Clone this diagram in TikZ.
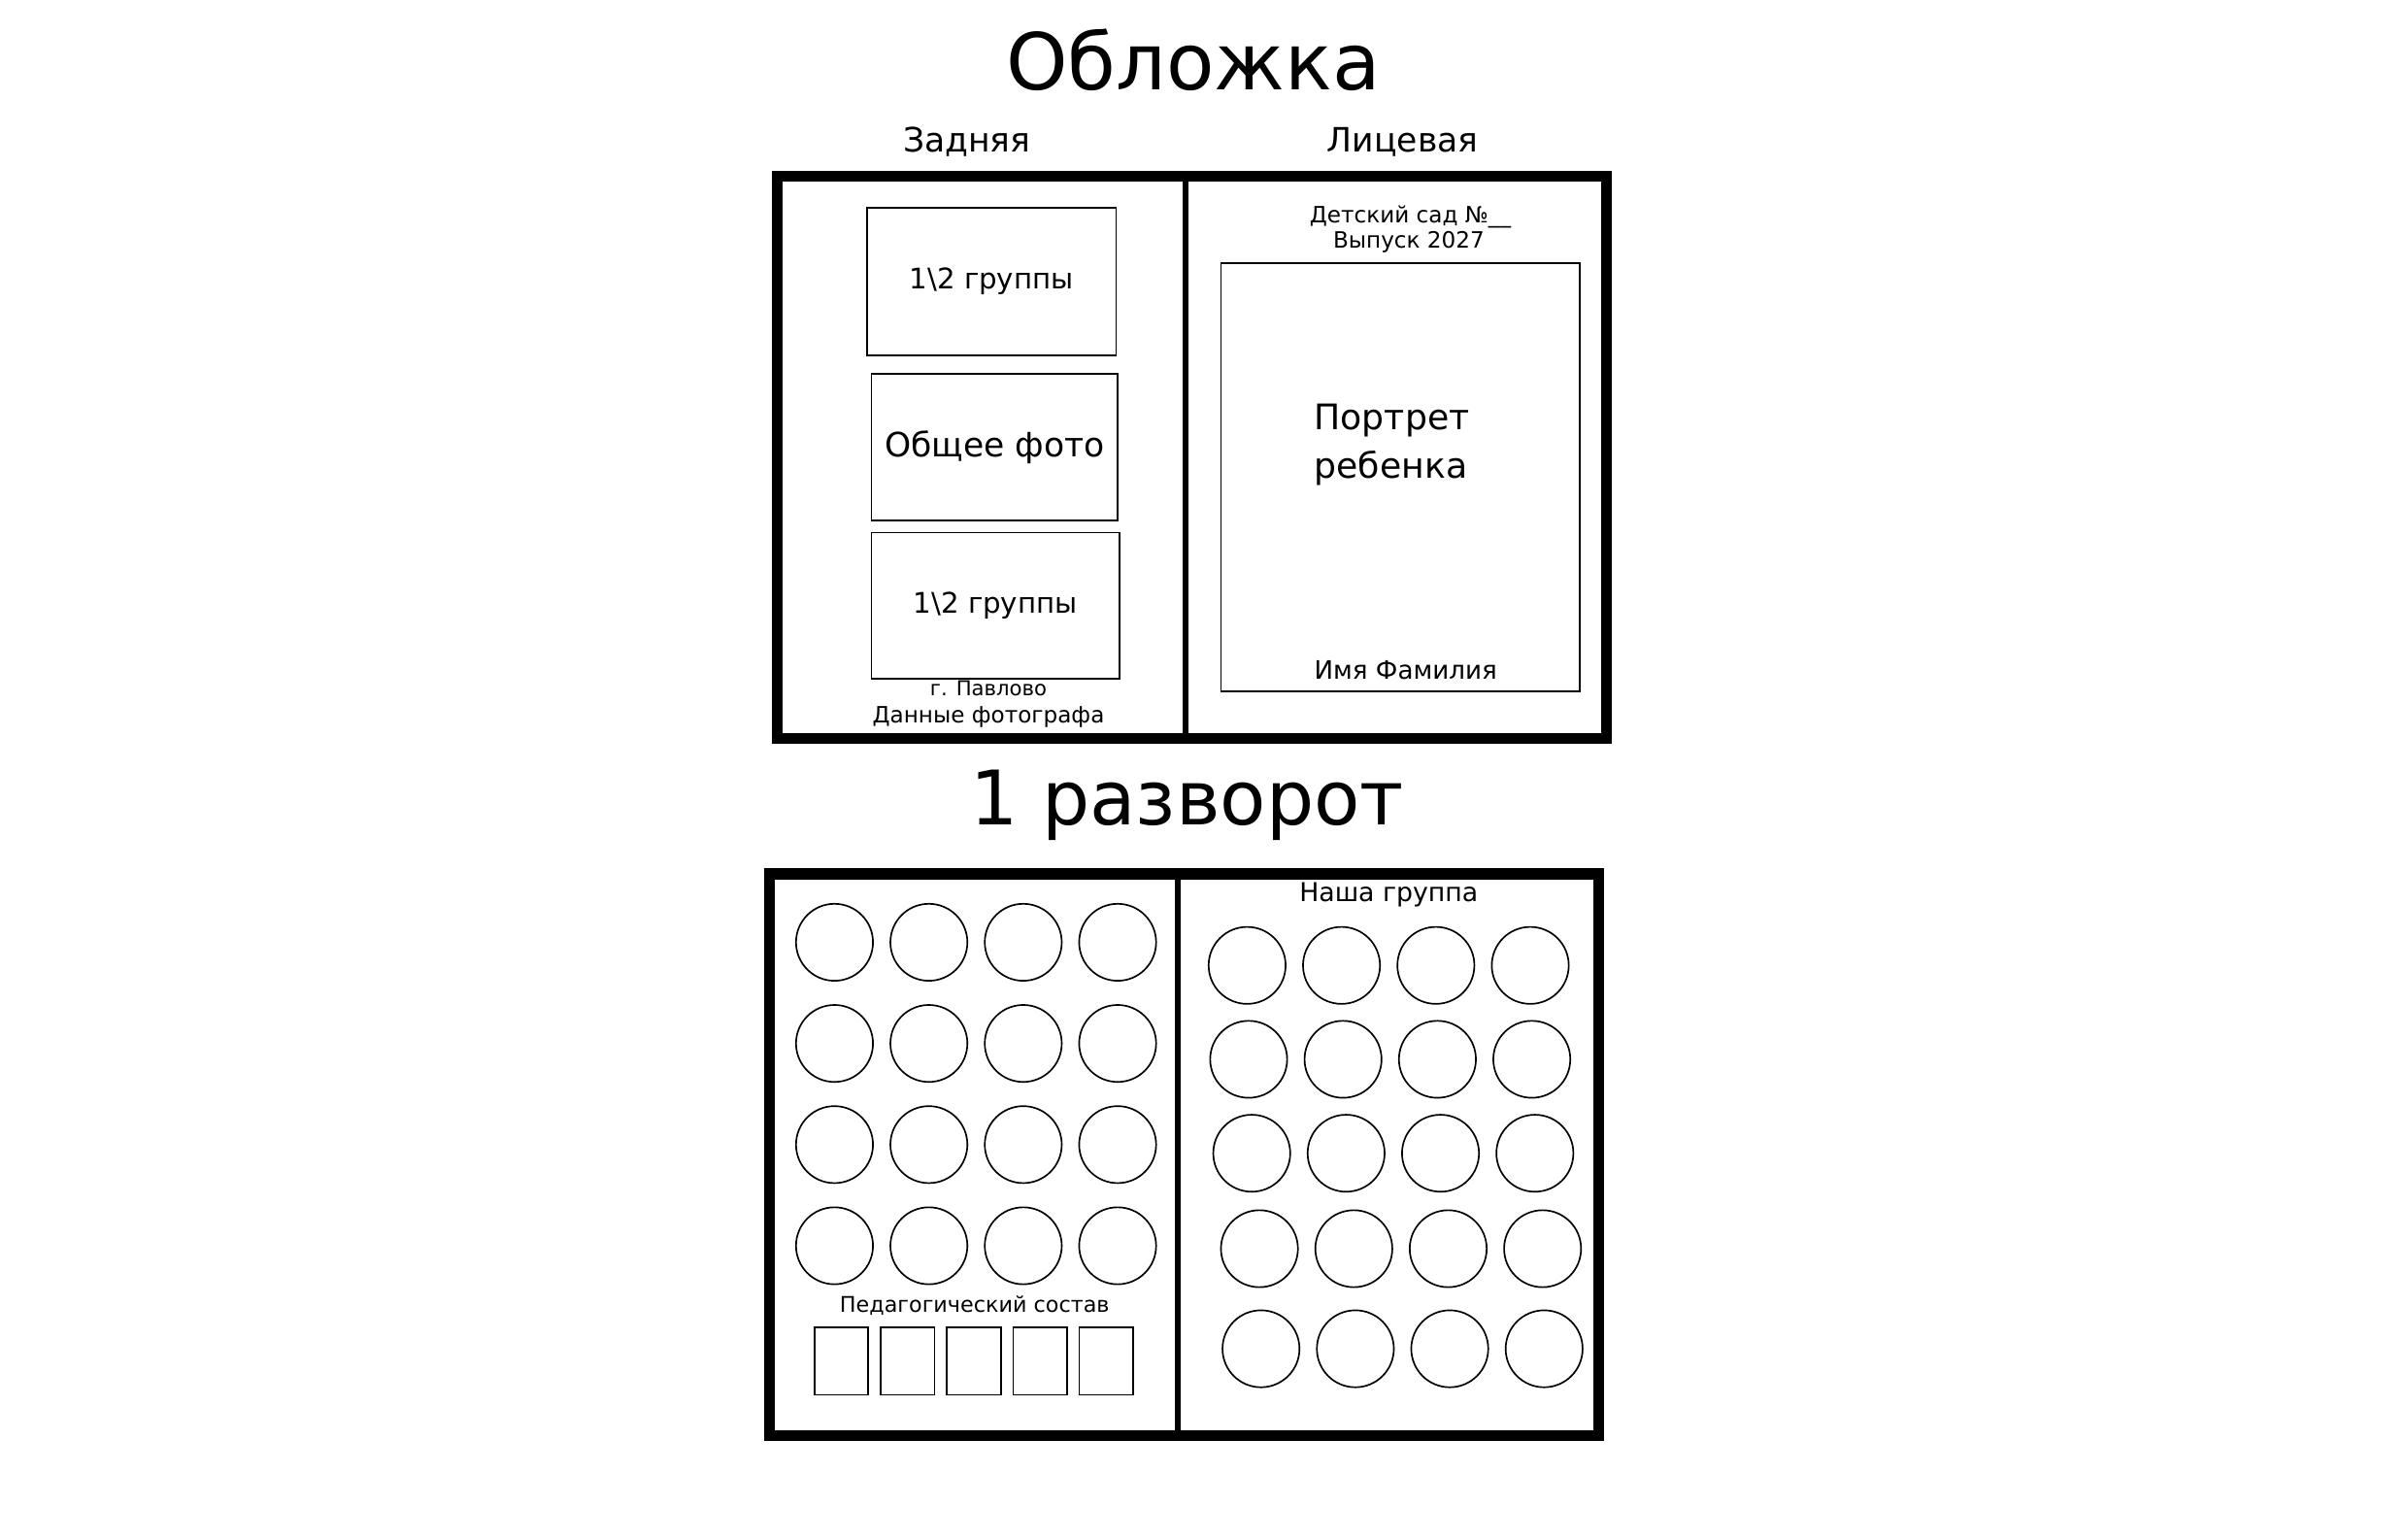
\documentclass[tikz,border=0pt]{standalone}
\usepackage{fontspec}
\setmainfont{DejaVu Sans}
\usetikzlibrary{positioning}

\tikzset{
  page/.style={draw, line width=4pt, inner sep=0pt, minimum width=10.78cm, minimum height=7.3cm},
  fold/.style={line width=2.3pt},
  photo/.style={draw, line width=0.6pt, inner sep=0pt},
  face/.style={draw, circle, line width=0.6pt, inner sep=0pt, minimum size=1cm},
  bigtitle/.style={font=\fontsize{28.5}{32}\selectfont},
  sidetitle/.style={font=\fontsize{12.4}{15}\selectfont},
  small/.style={font=\fontsize{8.3}{10}\selectfont, inner sep=0pt},
}

\begin{document}
\begin{tikzpicture}[x=0.02cm, y=-0.02cm]
  \useasboundingbox (0,0) rectangle (1564,1000);

  % cover
  \node[bigtitle, font=\fontsize{29}{32}\selectfont] (covertitle) at (775,39) {Обложка};
  \node[sidetitle] (back) at (628,92) {Задняя};
  \node[sidetitle] (front) at (911,92) {Лицевая};
  \node[page] (cover) at (774,297) {};
  \coordinate (spine) at (770,0);
  \draw[fold] (spine |- cover.north) -- (spine |- cover.south);

  \node[photo, minimum width=3.24cm, minimum height=1.92cm, font=\fontsize{10.5}{12}\selectfont] (half1) at (644,183) {1\textbackslash2 группы};
  \node[photo, minimum width=3.2cm, minimum height=1.9cm, font=\fontsize{12.4}{12}\selectfont] (all) at (646,290.5) {Общее фото};
  \node[photo, minimum width=3.22cm, minimum height=1.9cm, font=\fontsize{10.5}{12}\selectfont] (half2) at (646.5,393.5) {1\textbackslash2 группы};
  \node[small, font=\fontsize{7.6}{10}\selectfont] (city) at (642,447) {г. Павлово};
  \node[small] (photographer) at (642,466) {Данные фотографа};

  \node[small] (kindergarten) at (916,141) {Детский сад №\_\_};
  \node[small] (year) at (915,157) {Выпуск 2027};
  \node[photo, minimum width=4.66cm, minimum height=5.56cm] (portrait) at (909.5,310) {};
  \node[align=left, font=\fontsize{13}{18}\selectfont] (portraittext) at (904,289) {Портрет\\ребенка};
  \node[small, font=\fontsize{9.4}{10}\selectfont] (name) at (913,435) {Имя Фамилия};

  % first spread
  \node[bigtitle, font=\fontsize{27.8}{32}\selectfont] (spreadtitle) at (771,523) {1 разворот};
  \node[page] (spread) at (769,750) {};
  \coordinate (spine2) at (765,0);
  \draw[fold] (spine2 |- spread.north) -- (spine2 |- spread.south);

  \foreach \i in {0,...,3}
    \foreach \j in {0,...,3}
      \node[face] (l\i\j) at ({542+61.3*\i},{612+65.7*\j}) {};
  \node[small, font=\fontsize{8}{10}\selectfont] (staff) at (633,848) {Педагогический состав};
  \foreach \k in {0,...,4}
    \node[photo, minimum width=0.7cm, minimum height=0.88cm] (t\k) at ({546.5+43*\k},884) {};

  \node[small, font=\fontsize{9.6}{10}\selectfont] (group) at (902,581) {Наша группа};
  \foreach \j/\dx/\y in {0/0/627,1/1/688,2/3/749,3/8/811,4/9/876}
    \foreach \i in {0,...,3}
      \node[face] (r\i\j) at ({810+\dx+61.3*\i},\y) {};
\end{tikzpicture}
\end{document}
